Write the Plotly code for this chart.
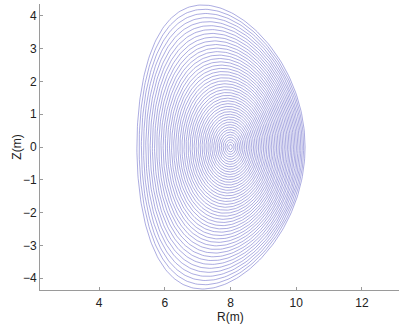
import numpy as np
import plotly.graph_objects as go

# Values
axis_R = 8.0           # magnetic axis R (m)
axis_Z = 0.0           # magnetic axis Z (m)
edge_R_in = 5.15       # inboard edge of last surface (m)
edge_R_out = 10.27     # outboard edge of last surface (m)
edge_Z_top = 4.33      # top of last surface (m)
edge_tri = 0.22        # triangularity of last surface
axis_kappa = 1.35      # elongation near the axis
n_surfaces = 46        # number of nested flux surfaces drawn

x_ticks = [4, 6, 8, 10, 12]
y_ticks = [-4, -3, -2, -1, 0, 1, 2, 3, 4]
x_title = "R(m)"
y_title = "Z(m)"

R_geo = (edge_R_in + edge_R_out) / 2
a_minor = (edge_R_out - edge_R_in) / 2
edge_kappa = edge_Z_top / a_minor
shift0 = axis_R - R_geo

theta = np.linspace(0, 2 * np.pi, 240)
xs, ys = [], []
for k in range(1, n_surfaces + 1):
    rho = k / n_surfaces
    Rc = R_geo + shift0 * (1 - rho ** 2)
    kap = axis_kappa + (edge_kappa - axis_kappa) * rho ** 2
    tri = edge_tri * rho ** 2
    R = Rc + a_minor * rho * np.cos(theta + tri * np.sin(theta))
    Z = axis_Z + kap * a_minor * rho * np.sin(theta)
    xs.extend(R.tolist() + [None])
    ys.extend(Z.tolist() + [None])

fig = go.Figure(go.Scatter(x=xs, y=ys, mode="lines",
                           line=dict(color="rgb(115,115,205)", width=0.6),
                           hoverinfo="skip", showlegend=False))

font = dict(family="Liberation Sans, Arial", size=12, color="#222")
axis_common = dict(showgrid=False, zeroline=False, showline=True,
                   linecolor="#9a9a9a", linewidth=1, ticks="inside",
                   ticklen=3, tickcolor="#9a9a9a", mirror=False,
                   automargin=False, tickfont=font)

fig.update_layout(
    width=400, height=329,
    margin=dict(l=40, r=1, t=4, b=39),
    paper_bgcolor="white", plot_bgcolor="white",
    xaxis=dict(range=[2.2, 13.13], tickvals=x_ticks, ticklabelstandoff=2, **axis_common),
    yaxis=dict(range=[-4.36, 4.36], tickvals=y_ticks, **axis_common),
    annotations=[
        dict(text=x_title, xref="x", yref="paper", x=8.0, y=-0.063,
             xanchor="center", yanchor="top", showarrow=False, font=font),
        dict(text=y_title, xref="paper", yref="y", x=-0.04, y=0,
             xanchor="right", yanchor="middle", textangle=-90, showarrow=False, font=font),
    ],
)

fig.write_html("out.html", config={"displayModeBar": False},
               post_script="document.body.style.margin='0';document.body.style.overflow='hidden';")
